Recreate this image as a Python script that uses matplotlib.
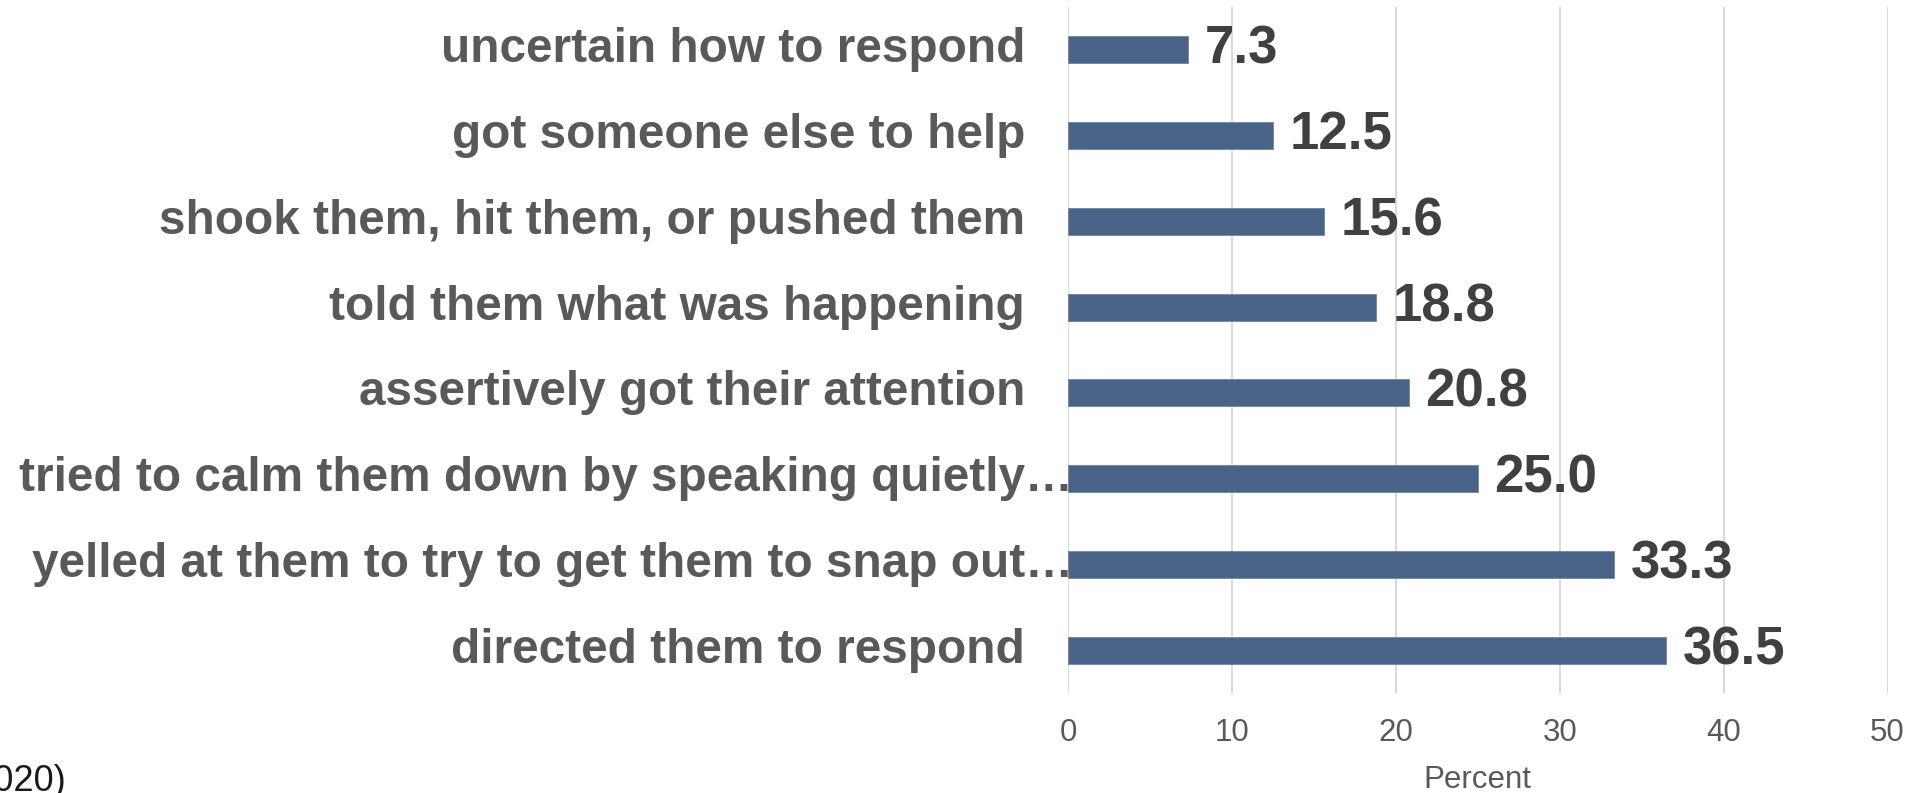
import matplotlib
matplotlib.use("Agg")
import matplotlib.pyplot as plt
import matplotlib.transforms as mtransforms

# Responses, listed bottom to top
categories = [
    "directed them to respond",
    "yelled at them to try to get them to snap out\u2026",
    "tried to calm them down by speaking quietly\u2026",
    "assertively got their attention",
    "told them what was happening",
    "shook them, hit them, or pushed them",
    "got someone else to help",
    "uncertain how to respond",
]
values = [36.5, 33.3, 25.0, 20.8, 18.8, 15.6, 12.5, 7.3]
truncated = [False, True, True, False, False, False, False, False]
xticks = [0, 10, 20, 30, 40, 50]

W, H, DPI = 1929, 793, 100
plt.rcParams["font.family"] = ["Liberation Sans", "DejaVu Sans"]

fig = plt.figure(figsize=(W / DPI, H / DPI), dpi=DPI)
ax = fig.add_axes([1068 / W, 100 / H, 819.5 / W, 686 / H])

bar_color = "#4A6389"
ypos = list(range(len(categories)))
ax.barh(ypos, values, height=0.315, color=bar_color, edgecolor="#6F85A6",
        linewidth=0.6, zorder=3)

ax.set_xlim(0, 50)
ax.set_ylim(-0.5, len(categories) - 0.5)
ax.set_xticks(xticks)
ax.set_xticklabels([str(t) for t in xticks])
ax.set_yticks([])
ax.tick_params(axis="x", length=0, pad=18, labelsize=22.5, labelcolor="#595959")
for s in ax.spines.values():
    s.set_visible(False)
ax.xaxis.grid(True, color="#D9D9D9", linewidth=1.5, zorder=0)
ax.set_axisbelow(True)
ax.set_xlabel("Percent", fontsize=22.5, color="#595959", labelpad=12)

# Value labels next to each bar
for y, v in zip(ypos, values):
    ax.annotate(f"{v:.1f}", xy=(v, y), xytext=(12, 0), textcoords="offset points",
                ha="left", va="center", fontsize=38, fontweight="bold",
                color="#404040")

# Category labels to the left of the axis
for y, name, trunc in zip(ypos, categories, truncated):
    dx = 5 / DPI if trunc else -43 / DPI
    tr = mtransforms.blended_transform_factory(ax.transAxes, ax.transData) + \
        mtransforms.ScaledTranslation(dx, 0, fig.dpi_scale_trans)
    ax.text(0, y, name, transform=tr, ha="right", va="center", fontsize=34.4,
            fontweight="bold", color="#595959", clip_on=False)

# Source note at lower left
fig.text(66 / W, 1 - 764 / H, "(2020)", ha="right", va="top", fontsize=26,
         color="#1A1A1A")

fig.savefig("out.png", dpi=DPI)
